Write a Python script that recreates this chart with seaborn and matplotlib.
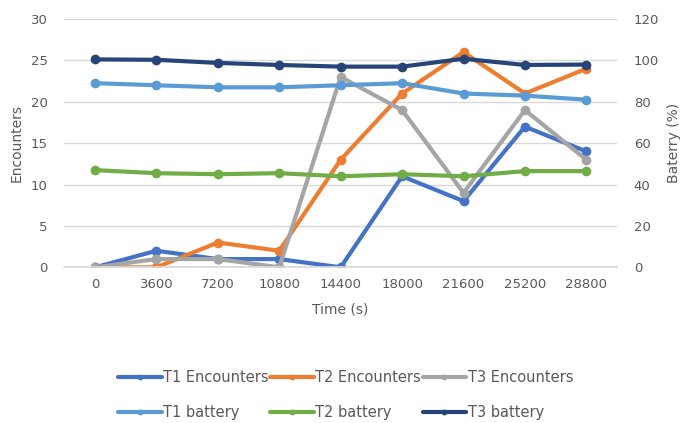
import numpy as np
import pandas as pd
import matplotlib
matplotlib.use("Agg")
import matplotlib.pyplot as plt
import seaborn as sns

# data
time_s = [0, 3600, 7200, 10800, 14400, 18000, 21600, 25200, 28800]
t1_encounters = [0, 2, 1, 1, 0, 11, 8, 17, 14]
t2_encounters = [0, 0, 3, 2, 13, 21, 26, 21, 24]
t3_encounters = [0, 1, 1, 0, 23, 19, 9, 19, 13]
t1_battery = [89, 88, 87, 87, 88, 89, 84, 83, 81]
t2_battery = [47, 45.5, 45, 45.5, 44, 45, 44, 46.5, 46.5]
t3_battery = [100.5, 100.3, 98.8, 97.8, 97, 97, 100.8, 97.8, 98]

sns.set_theme(style="white")
plt.rcParams['font.family'] = ['DejaVu Sans']
text_color = '#595959'
grid_color = '#D9D9D9'

fig, ax = plt.subplots(figsize=(6.91, 4.23), dpi=100)
fig.subplots_adjust(left=0.093, right=0.893, top=0.955, bottom=0.368)
ax2 = ax.twinx()

line_kw = dict(marker='o', markersize=7, linewidth=3, markeredgewidth=0)

enc_series = [
    ('T1 Encounters', t1_encounters, '#4472C4'),
    ('T2 Encounters', t2_encounters, '#ED7D31'),
    ('T3 Encounters', t3_encounters, '#A5A5A5'),
]
bat_series = [
    ('T1 battery', t1_battery, '#5B9BD5'),
    ('T2 battery', t2_battery, '#70AD47'),
    ('T3 battery', t3_battery, '#264478'),
]

for name, vals, col in enc_series:
    df = pd.DataFrame({'time': time_s, 'value': vals})
    sns.lineplot(data=df, x='time', y='value', ax=ax, color=col, label=name, **line_kw)
for name, vals, col in bat_series:
    df = pd.DataFrame({'time': time_s, 'value': vals})
    sns.lineplot(data=df, x='time', y='value', ax=ax2, color=col, label=name, **line_kw)

ax.set_ylim(0, 30)
ax.set_yticks(range(0, 31, 5))
ax2.set_ylim(0, 120)
ax2.set_yticks(range(0, 121, 20))
ax.set_xlim(-1800, 30600)
ax.set_xticks(time_s)
ax.set_xticklabels([str(t) for t in time_s])

ax.grid(axis='y', color=grid_color, linewidth=1)
ax.set_axisbelow(True)
for a in (ax, ax2):
    for s in a.spines.values():
        s.set_visible(False)
    a.tick_params(axis='both', length=0, colors=text_color, labelsize=9.5)
ax.spines['bottom'].set_visible(True)
ax.spines['bottom'].set_color(grid_color)
ax.tick_params(axis='y', pad=12)
ax2.tick_params(axis='y', pad=12)
ax.tick_params(axis='x', pad=8)

ax.set_xlabel('Time (s)', color=text_color, fontsize=10, labelpad=8)
ax.set_ylabel('Encounters', color=text_color, fontsize=10, labelpad=5)
ax2.set_ylabel('Baterry (%)', color=text_color, fontsize=10, labelpad=6)

h1, l1 = ax.get_legend_handles_labels()
h2, l2 = ax2.get_legend_handles_labels()
ax.get_legend().remove()
ax2.get_legend().remove()
handles = [h1[0], h2[0], h1[1], h2[1], h1[2], h2[2]]
labels = [l1[0], l2[0], l1[1], l2[1], l1[2], l2[2]]
leg = fig.legend(handles, labels, ncol=3, loc='lower center', bbox_to_anchor=(0.5, -0.024),
                 frameon=False, fontsize=10.5, handlelength=3.0, handletextpad=0.1,
                 columnspacing=0.1, labelspacing=1.4, markerscale=0.6)
for t in leg.get_texts():
    t.set_color(text_color)

fig.savefig('out.png', dpi=100)
